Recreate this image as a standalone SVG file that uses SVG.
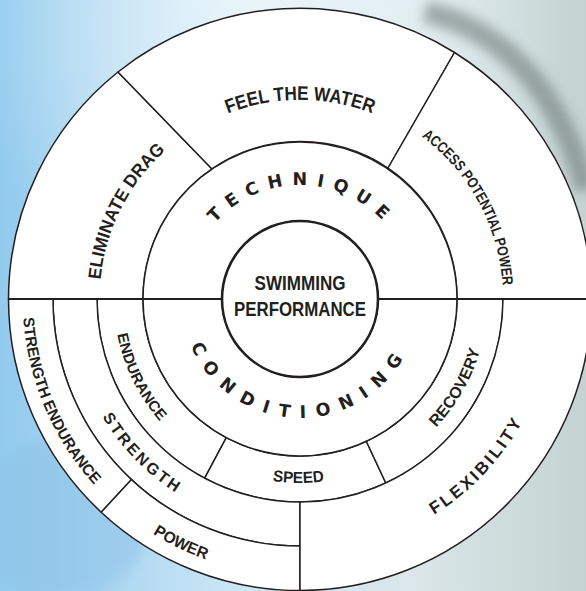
<svg xmlns="http://www.w3.org/2000/svg" xmlns:xlink="http://www.w3.org/1999/xlink" width="586" height="591" viewBox="0 0 586 591">
<style>
.seg{fill:#fff;stroke:#231f20;stroke-width:1.5;stroke-linejoin:round}
.lbl{font-family:"Liberation Sans",Arial,sans-serif;font-weight:bold;fill:#231f20}
.wide{font-family:"DejaVu Sans","Liberation Sans",sans-serif;font-weight:bold;fill:#231f20;font-size:17.5px}
.guide{fill:none;stroke:none}
</style>
<defs>
<linearGradient id="bg" x1="0" y1="0" x2="1" y2="0">
<stop offset="0" stop-color="#92caee"/>
<stop offset="0.4" stop-color="#cbe6f5"/>
<stop offset="0.7" stop-color="#dbe7e9"/>
<stop offset="1" stop-color="#c4d3d1"/>
</linearGradient>
<radialGradient id="glow" cx="0.45" cy="0.05" r="0.5">
<stop offset="0" stop-color="#eef7fb" stop-opacity="0.9"/>
<stop offset="1" stop-color="#eef7fb" stop-opacity="0"/>
</radialGradient>
<filter id="blur" x="-20%" y="-20%" width="140%" height="140%"><feGaussianBlur stdDeviation="6"/></filter>
<path id="pTech" class="guide" d="M187.4,281.2 A114,114 0 0 1 411.9,277.2"/>
<path id="pCond" class="guide" d="M181.8,312.5 A119,119 0 0 0 415.7,326.8"/>
<path id="pFeel" class="guide" d="M104,264.5 A199,199 0 0 1 496,264.5"/>
<path id="pElim" class="guide" d="M180.2,459.8 A200.5,200.5 0 0 1 357.6,107"/>
<path id="pAccess" class="guide" d="M235.6,106.5 A203,203 0 0 1 426.4,457.9"/>
<path id="pStrEnd" class="guide" d="M148.9,66.3 A277.5,277.5 0 0 0 362.4,569.4"/>
<path id="pEnd" class="guide" d="M190.7,148.5 A186,186 0 0 0 351.3,477.8"/>
<path id="pStr" class="guide" d="M113.9,163.8 A230,230 0 0 0 428.6,489.7"/>
<path id="pPow" class="guide" d="M33.7,222.7 A277,277 0 0 0 524.1,461.8"/>
<path id="pSpeed" class="guide" d="M118.5,329.4 A184,184 0 0 0 480.9,332.5"/>
<path id="pRec" class="guide" d="M237.3,475.2 A187,187 0 0 0 419.2,154.9"/>
<path id="pFlex" class="guide" d="M159.4,510.6 A254,254 0 0 0 504.4,148.3"/>
</defs>

<g id="background">
<rect width="586" height="591" fill="url(#bg)"/>
<rect width="586" height="591" fill="url(#glow)"/>
<path d="M425,12 C500,28 560,90 586,190" fill="none" stroke="#5f6b69" stroke-width="22" opacity="0.5" filter="url(#blur)"/>
<ellipse cx="60" cy="520" rx="90" ry="80" fill="#8cc2e6" opacity="0.5" filter="url(#blur)"/>
</g>

<g id="eliminate-drag">
<path class="seg" d="M143,299 L8.5,299 A291.5,291.5 0 0 1 118,72 L212,169 A157,157 0 0 0 143,299 Z"/>
<text class="lbl" font-size="18"><textPath href="#pElim" startOffset="50%" text-anchor="middle" textLength="148" lengthAdjust="spacingAndGlyphs">ELIMINATE DRAG</textPath></text>
</g>
<g id="feel-the-water">
<path class="seg" d="M212,169 L118,72 A291.5,291.5 0 0 1 454.5,52.5 L388,168 A157,157 0 0 0 212,169 Z"/>
<text class="lbl" font-size="19.5"><textPath href="#pFeel" startOffset="50%" text-anchor="middle" textLength="148" lengthAdjust="spacingAndGlyphs">FEEL THE WATER</textPath></text>
</g>
<g id="access-potential-power">
<path class="seg" d="M388,168 L454.5,52.5 A291.5,291.5 0 0 1 591.5,299 L457,299 A157,157 0 0 0 388,168 Z"/>
<text class="lbl" font-size="15"><textPath href="#pAccess" startOffset="50%" text-anchor="middle" textLength="175" lengthAdjust="spacingAndGlyphs">ACCESS POTENTIAL POWER</textPath></text>
</g>

<g id="endurance">
<path class="seg" d="M143,299 A157,157 0 0 0 226.3,437.6 L204.7,478.2 A203,203 0 0 1 97,299 Z"/>
<text class="lbl" font-size="15"><textPath href="#pEnd" startOffset="50%" text-anchor="middle" textLength="98" lengthAdjust="spacingAndGlyphs">ENDURANCE</textPath></text>
</g>
<g id="speed">
<path class="seg" d="M226.3,437.6 A157,157 0 0 0 366.3,441.3 L385.8,483 A203,203 0 0 1 204.7,478.2 Z"/>
<text class="lbl" font-size="16"><textPath href="#pSpeed" startOffset="50%" text-anchor="middle" textLength="52" lengthAdjust="spacingAndGlyphs">SPEED</textPath></text>
</g>
<g id="recovery">
<path class="seg" d="M366.3,441.3 A157,157 0 0 0 457,299 L503,299 A203,203 0 0 1 385.8,483 Z"/>
<text class="lbl" font-size="16"><textPath href="#pRec" startOffset="50%" text-anchor="middle" textLength="90" lengthAdjust="spacingAndGlyphs">RECOVERY</textPath></text>
</g>
<g id="strength">
<path class="seg" d="M97,299 A203,203 0 0 0 300,502 L300,546 A247,247 0 0 1 53,299 Z"/>
<text class="lbl" font-size="16"><textPath href="#pStr" startOffset="50%" text-anchor="middle" textLength="106" lengthAdjust="spacing">STRENGTH</textPath></text>
</g>
<g id="strength-endurance">
<path class="seg" d="M53,299 A247,247 0 0 0 131.5,479.6 L101.2,512.2 A291.5,291.5 0 0 1 8.5,299 Z"/>
<text class="lbl" font-size="15.5"><textPath href="#pStrEnd" startOffset="50%" text-anchor="middle" textLength="185" lengthAdjust="spacingAndGlyphs">STRENGTH ENDURANCE</textPath></text>
</g>
<g id="power">
<path class="seg" d="M131.5,479.6 A247,247 0 0 0 300,546 L300,590.5 A291.5,291.5 0 0 1 101.2,512.2 Z"/>
<text class="lbl" font-size="16"><textPath href="#pPow" startOffset="50%" text-anchor="middle" textLength="59" lengthAdjust="spacingAndGlyphs">POWER</textPath></text>
</g>
<g id="flexibility">
<path class="seg" d="M503,299 L591.5,299 A291.5,291.5 0 0 1 300,590.5 L300,502 A203,203 0 0 0 503,299 Z"/>
<text class="lbl" font-size="17"><textPath href="#pFlex" startOffset="50%" text-anchor="middle" textLength="129" lengthAdjust="spacing">FLEXIBILITY</textPath></text>
</g>

<g id="technique">
<path class="seg" d="M143,299 A157,157 0 0 1 457,299 L378,299 A78,78 0 0 0 222,299 Z"/>
<text class="wide"><textPath href="#pTech" startOffset="50%" text-anchor="middle" textLength="188" lengthAdjust="spacing">TECHNIQUE</textPath></text>
</g>
<g id="conditioning">
<path class="seg" d="M457,299 A157,157 0 0 1 143,299 L222,299 A78,78 0 0 0 378,299 Z"/>
<text class="wide"><textPath href="#pCond" startOffset="50%" text-anchor="middle" textLength="263" lengthAdjust="spacing">CONDITIONING</textPath></text>
</g>

<g id="connectors">
<line x1="8.5" y1="299" x2="586" y2="299" stroke="#231f20" stroke-width="2"/>
</g>

<g id="swimming-performance">
<circle cx="300" cy="299" r="78" fill="#fff" stroke="#231f20" stroke-width="2.6"/>
<text class="lbl" font-size="21" x="300" y="290" text-anchor="middle" textLength="91" lengthAdjust="spacingAndGlyphs">SWIMMING</text>
<text class="lbl" font-size="21" x="300" y="316" text-anchor="middle" textLength="132" lengthAdjust="spacingAndGlyphs">PERFORMANCE</text>
</g>
</svg>
